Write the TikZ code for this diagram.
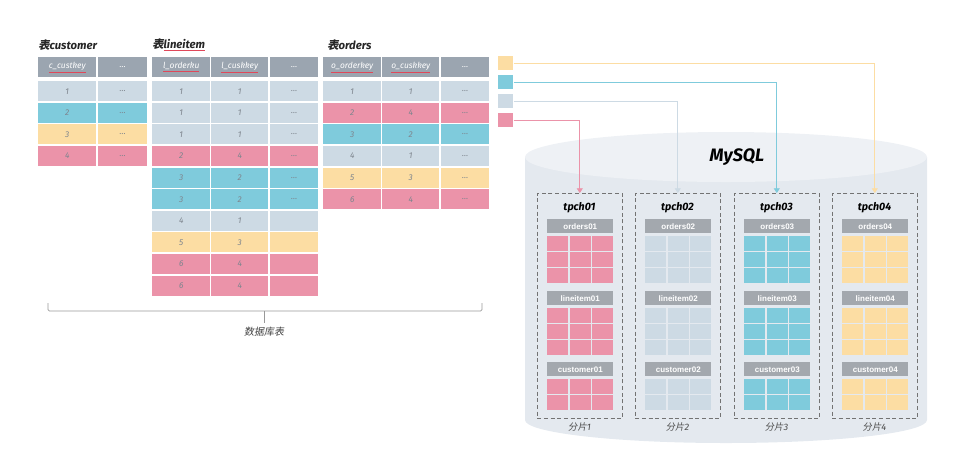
\documentclass[tikz,border=0pt]{standalone}
\usepackage{fontspec}
\setmainfont{Fira Sans}
\newfontfamily\cjk{Noto Sans CJK SC}[FakeSlant=0.18]
\newfontfamily\arial{Liberation Sans}
\usetikzlibrary{arrows.meta,positioning}
\definecolor{hdgray}{HTML}{9BA5B0}
\definecolor{rowgray}{HTML}{CDDAE4}
\definecolor{rowblue}{HTML}{7FCBDC}
\definecolor{rowyellow}{HTML}{FCDDA3}
\definecolor{rowpink}{HTML}{EB93A9}
\definecolor{celltext}{HTML}{7E858E}
\definecolor{cyltop}{HTML}{EEF1F5}
\definecolor{cylbody}{HTML}{E4E9EF}
\definecolor{shardhd}{HTML}{A3A8AE}
\definecolor{squiggle}{HTML}{E0485A}
\newcommand\hd[1]{\textcolor{squiggle}{\underline{\textcolor{white}{#1}}}}

\begin{document}
\begin{tikzpicture}[x=0.75pt,y=-0.75pt,
    title/.style={anchor=west, inner sep=0pt, font=\fontsize{8.5}{10}\selectfont\itshape\bfseries, text=black!85},
    cellbox/.style={anchor=north west, inner sep=0pt, minimum height=15pt,
        font=\fontsize{6.3}{7}\selectfont\itshape, text=celltext},
    hdcell/.style={cellbox, fill=hdgray, text=white},
    gridcell/.style={anchor=north west, inner sep=0pt, minimum width=15.75pt, minimum height=11.25pt},
    subhead/.style={anchor=north west, inner sep=0pt, fill=shardhd, text=white,
        minimum width=49.5pt, minimum height=10.5pt, font=\arial\bfseries\fontsize{6}{7}\selectfont},
    shardbox/.style={draw=black!55, densely dashed, line width=0.4pt, anchor=north west,
        inner sep=0pt, minimum width=63.75pt, minimum height=168.75pt},
    legend/.style={anchor=north west, inner sep=0pt, minimum width=11.25pt, minimum height=10.5pt},
    link/.style={draw=#1, line width=0.6pt, -{Triangle[width=4.5pt,length=3.5pt]}}
]
\useasboundingbox (0,0) rectangle (960,469);

% database cylinder
\fill[cylbody] (525,157) -- (525,420) arc[start angle=180, end angle=360, x radius=150.75pt, y radius=17.25pt]
    -- (927,157) -- cycle;
\fill[cyltop] (726,157) ellipse [x radius=150.75pt, y radius=18.75pt];
\node[font=\fontsize{13.5}{15}\selectfont\bfseries\itshape] (mysql) at (737,157) {MySQL};

% table customer
\node[title] (tcust) at (38,45) {{\cjk 表}customer};
\node[hdcell, minimum width=43.5pt] (cust-h-1) at (38,57) {\hd{c\_custkey}};
\node[hdcell, minimum width=36.75pt] (cust-h-2) at (98,57) {\ldots};
\foreach \v/\c [count=\i from 0] in {1/rowgray, 2/rowblue, 3/rowyellow, 4/rowpink} {
    \node[cellbox, fill=\c, minimum width=43.5pt] (cust-\i-1) at (38,{81+\i*21.6}) {\v};
    \node[cellbox, fill=\c, minimum width=36.75pt] (cust-\i-2) at (98,{81+\i*21.6}) {\ldots};
}

% table lineitem
\node[title] (tline) at (152,45) {{\cjk 表}\textcolor{squiggle}{\underline{\textcolor{black!85}{lineitem}}}};
\node[hdcell, minimum width=43.5pt] (line-h-1) at (152,57) {\hd{l\_orderku}};
\node[hdcell, minimum width=42.75pt] (line-h-2) at (211,57) {\hd{l\_cuskkey}};
\node[hdcell, minimum width=36pt] (line-h-3) at (270,57) {\ldots};
\foreach \a/\b/\d/\c [count=\i from 0] in {1/1/\ldots/rowgray, 1/1/\ldots/rowgray, 1/1/\ldots/rowgray,
        2/4/\ldots/rowpink, 3/2/\ldots/rowblue, 3/2/\ldots/rowblue, 4/1//rowgray,
        5/3//rowyellow, 6/4//rowpink, 6/4//rowpink} {
    \node[cellbox, fill=\c, minimum width=43.5pt] (line-\i-1) at (152,{81+\i*21.6}) {\a};
    \node[cellbox, fill=\c, minimum width=42.75pt] (line-\i-2) at (211,{81+\i*21.6}) {\b};
    \node[cellbox, fill=\c, minimum width=36pt] (line-\i-3) at (270,{81+\i*21.6}) {\d};
}

% table orders
\node[title] (tord) at (327,45) {{\cjk 表}orders};
\node[hdcell, minimum width=43.5pt] (ord-h-1) at (323,57) {\hd{o\_orderkey}};
\node[hdcell, minimum width=42.75pt] (ord-h-2) at (382,57) {\hd{o\_cuskkey}};
\node[hdcell, minimum width=36pt] (ord-h-3) at (441,57) {\ldots};
\foreach \a/\b/\c [count=\i from 0] in {1/1/rowgray, 2/4/rowpink, 3/2/rowblue,
        4/1/rowgray, 5/3/rowyellow, 6/4/rowpink} {
    \node[cellbox, fill=\c, minimum width=43.5pt] (ord-\i-1) at (323,{81+\i*21.6}) {\a};
    \node[cellbox, fill=\c, minimum width=42.75pt] (ord-\i-2) at (382,{81+\i*21.6}) {\b};
    \node[cellbox, fill=\c, minimum width=36pt] (ord-\i-3) at (441,{81+\i*21.6}) {\ldots};
}

% brace under the tables
\draw[black!40, line width=0.6pt, rounded corners=1pt] (48,303) -- (48,311) -- (482,311) -- (482,303);
\node[font=\cjk\fontsize{7.5}{8}\selectfont, text=black!75] (dbtables) at (264,332) {数据库表};
\draw[black!40, line width=0.6pt] (264,311) -- (dbtables.north);

% shards
\foreach \s/\x/\c in {1/537/rowpink, 2/635/rowgray, 3/734/rowblue, 4/832/rowyellow} {
    \node[shardbox] (shard\s) at (\x,193) {};
    \node[font=\fontsize{8}{9}\selectfont\bfseries\itshape] (db\s) at ({\x+42.5},208) {tpch0\s};
    \foreach \tb/\y/\n in {orders/219/3, lineitem/291/3, customer/362/2} {
        \node[subhead] (\tb\s) at ({\x+10},\y) {\tb0\s};
        \foreach \r in {1,...,\n}
            \foreach \k in {0,1,2}
                \node[gridcell, fill=\c] (\tb\s-\r-\k) at ({\x+10+\k*22.5},{\y+16.5+(\r-1)*16}) {};
    }
    \node[font=\fontsize{7}{8}\selectfont\itshape, text=black!70] (part\s) at ({\x+42.5},427) {{\cjk 分片}\s};
}

% colour keys
\node[legend, fill=rowyellow] (sqY) at (498,56) {};
\node[legend, fill=rowblue] (sqB) at (498,75) {};
\node[legend, fill=rowgray] (sqG) at (498,94) {};
\node[legend, fill=rowpink] (sqP) at (498,113) {};
\draw[link=rowpink] (sqP.east) -| (shard1.north);
\draw[link=rowgray] (sqG.east) -| (shard2.north);
\draw[link=rowblue] (sqB.east) -| (shard3.north);
\draw[link=rowyellow] (sqY.east) -| (shard4.north);
\end{tikzpicture}
\end{document}
